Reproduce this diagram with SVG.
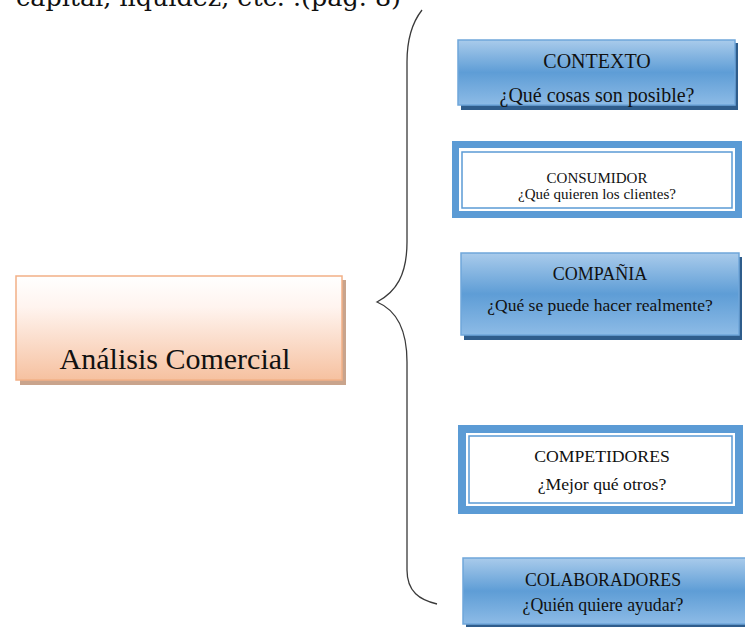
<svg xmlns="http://www.w3.org/2000/svg" width="745" height="627" viewBox="0 0 745 627">
  <defs>
    <linearGradient id="blueFill" x1="0" y1="0" x2="0" y2="1">
      <stop offset="0" stop-color="#a9cbeb"/>
      <stop offset="0.5" stop-color="#5e9dd6"/>
      <stop offset="1" stop-color="#8dbbe6"/>
    </linearGradient>
    <linearGradient id="peachFill" x1="0" y1="0" x2="0" y2="1">
      <stop offset="0" stop-color="#ffffff"/>
      <stop offset="0.3" stop-color="#fff4ef"/>
      <stop offset="1" stop-color="#f6c1a0"/>
    </linearGradient>
    <style>
      .serif { font-family: "Liberation Serif", "Times New Roman", serif; fill: #111; }
      .shadowBlue { fill: #2f5d8c; }
      .gradBox { fill: url(#blueFill); stroke: #6fa6da; stroke-width: 1.5; }
      .frameOuter { fill: #5b9bd5; }
      .frameInner { fill: #ffffff; stroke: #5b9bd5; stroke-width: 1.5; }
      .brace { fill: none; stroke: #3a3a3a; stroke-width: 1.3; }
    </style>
  </defs>

  <rect width="745" height="627" fill="#ffffff"/>

  <!-- caption line, partly above the top edge -->
  <text class="serif" x="16" y="6" font-size="24" textLength="385" lengthAdjust="spacingAndGlyphs" style="font-family:'DejaVu Serif','Liberation Serif',serif">capital, liquidez, etc. .(pág. 8)</text>

  <!-- connectors -->
  <g id="connectors">
    <path class="brace" d="M422,10 C411,24 407,40 407,62 L407,242 C407,275 396,292 377,302 C396,310 407,328 407,362 L407,570 C407,592 420,600 437,604"/>
  </g>

  <!-- left node -->
  <g id="analisis">
    <rect x="20" y="280" width="326" height="105" fill="#c9a48c"/>
    <rect x="16" y="276" width="326" height="104" fill="url(#peachFill)" stroke="#f2b087" stroke-width="1.5"/>
    <text class="serif" x="175" y="369" font-size="30" text-anchor="middle">Análisis Comercial</text>
  </g>

  <g id="contexto">
    <rect x="461" y="43" width="277" height="67" class="shadowBlue"/>
    <rect x="458" y="40" width="277" height="65" class="gradBox"/>
    <text class="serif" x="597" y="68" font-size="20" text-anchor="middle">CONTEXTO</text>
    <text class="serif" x="597" y="102" font-size="20" text-anchor="middle">¿Qué cosas son posible?</text>
  </g>

  <g id="consumidor">
    <rect x="452" y="141" width="290" height="77" class="frameOuter"/>
    <rect x="459" y="148" width="276" height="63" fill="#ffffff"/>
    <rect x="462" y="152" width="270" height="56" class="frameInner"/>
    <text class="serif" x="597" y="183" font-size="15" text-anchor="middle">CONSUMIDOR</text>
    <text class="serif" x="597" y="199" font-size="15" text-anchor="middle">¿Qué quieren los clientes?</text>
  </g>

  <g id="compania">
    <rect x="464" y="257" width="278" height="83" class="shadowBlue"/>
    <rect x="461" y="253" width="278" height="82" class="gradBox"/>
    <text class="serif" x="600" y="280" font-size="18" text-anchor="middle">COMPAÑIA</text>
    <text class="serif" x="600" y="311" font-size="17.5" text-anchor="middle">¿Qué se puede hacer realmente?</text>
  </g>

  <g id="competidores">
    <rect x="458" y="425" width="285" height="89" class="frameOuter"/>
    <rect x="466" y="433" width="269" height="73" fill="#ffffff"/>
    <rect x="469" y="436" width="263" height="67" class="frameInner"/>
    <text class="serif" x="602" y="462" font-size="17.7" text-anchor="middle">COMPETIDORES</text>
    <text class="serif" x="602" y="490" font-size="17.7" text-anchor="middle">¿Mejor qué otros?</text>
  </g>

  <g id="colaboradores">
    <rect x="466" y="562" width="282" height="66" class="shadowBlue"/>
    <rect x="463" y="558" width="284" height="66" class="gradBox"/>
    <text class="serif" x="603" y="586" font-size="17.8" text-anchor="middle">COLABORADORES</text>
    <text class="serif" x="603" y="611" font-size="17.8" text-anchor="middle">¿Quién quiere ayudar?</text>
  </g>
</svg>
